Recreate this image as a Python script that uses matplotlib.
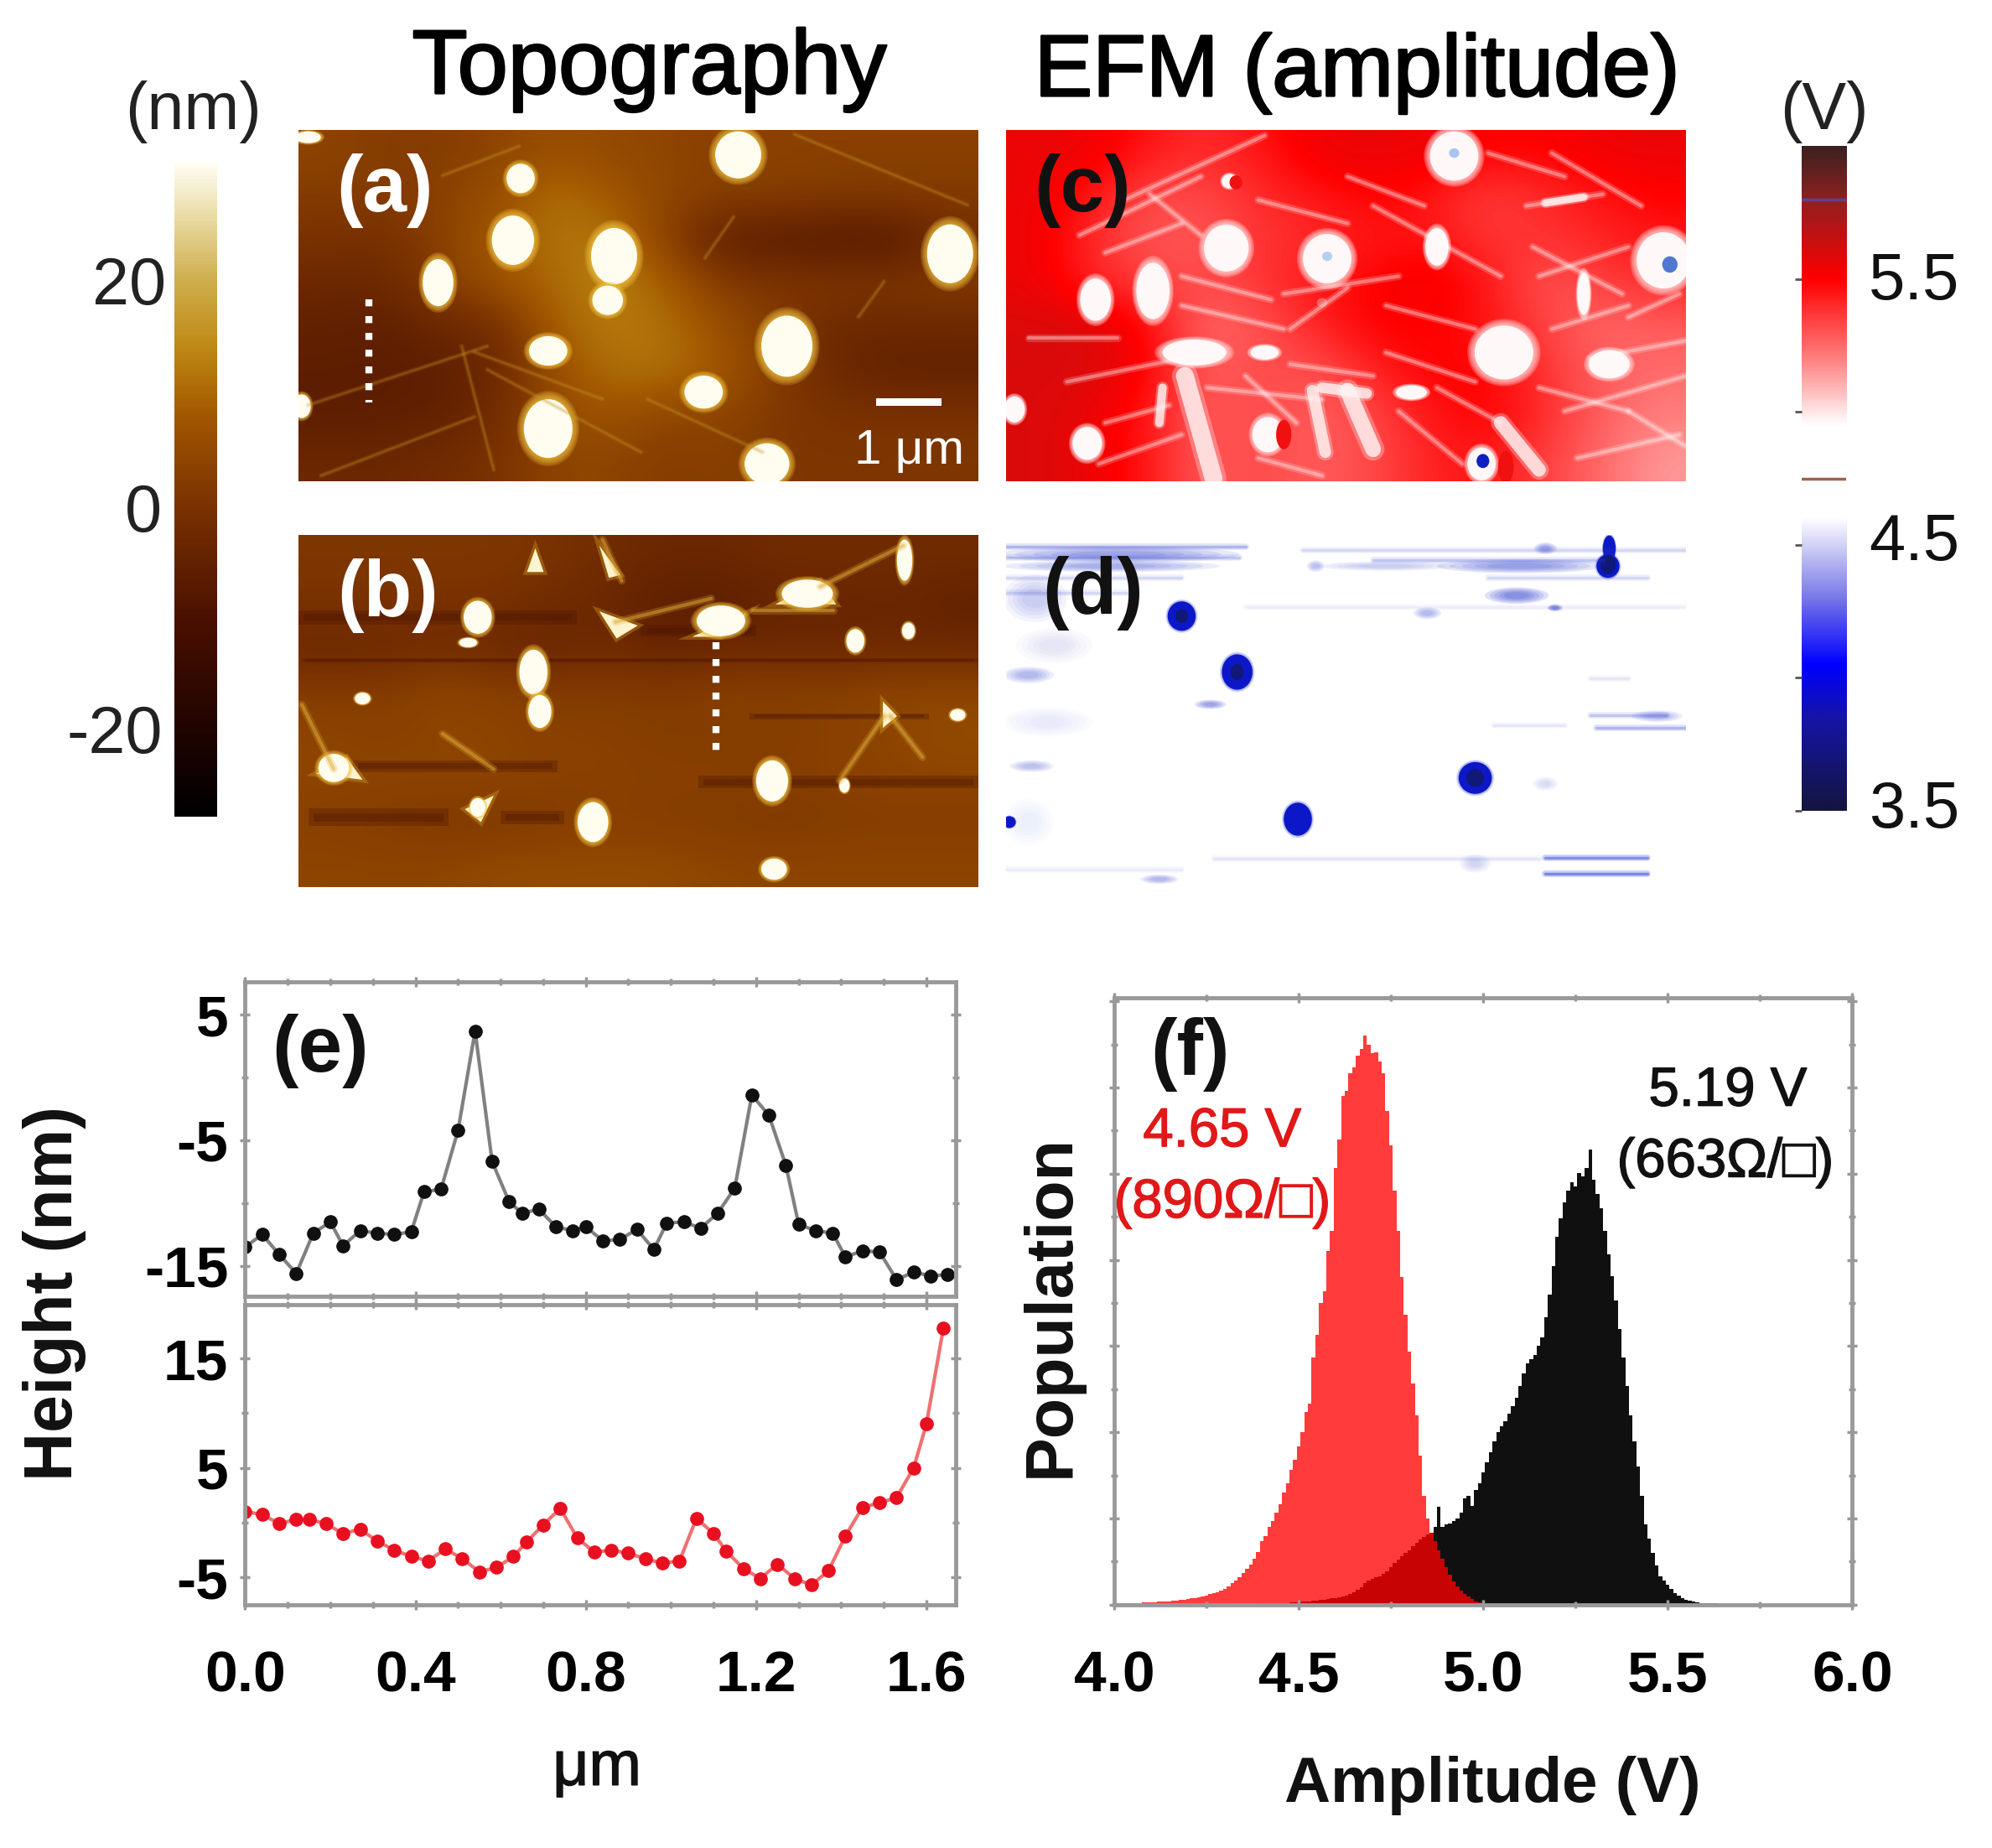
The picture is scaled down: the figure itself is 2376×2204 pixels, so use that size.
import numpy as np
import matplotlib
matplotlib.use('Agg')
import matplotlib.pyplot as plt
import matplotlib.patheffects as pe
from matplotlib.colors import LinearSegmentedColormap
from matplotlib.patches import Ellipse, Rectangle, Polygon
from matplotlib.ticker import MultipleLocator

plt.rcParams['font.family'] = ['Liberation Sans', 'DejaVu Sans']
plt.rcParams['axes.unicode_minus'] = False

W, H = 2376, 2204
S = W / 1568.0  # positions below were read on a scaled view of the picture

# height profiles, panel (e)
x_top = [0.00, 0.04, 0.08, 0.12, 0.16, 0.20, 0.23, 0.27, 0.31, 0.35, 0.39, 0.42, 0.46, 0.50, 0.54,
         0.58, 0.62, 0.65, 0.69, 0.73, 0.77, 0.80, 0.84, 0.88, 0.92, 0.96, 0.99, 1.03, 1.07, 1.11,
         1.15, 1.19, 1.23, 1.27, 1.30, 1.34, 1.38, 1.41, 1.45, 1.49, 1.53, 1.57, 1.61, 1.65]
h_top = [-13.5, -12.5, -14.1, -15.6, -12.4, -11.5, -13.4, -12.2, -12.4, -12.5, -12.3, -9.1, -8.9, -4.2, 3.7,
         -6.7, -9.9, -10.8, -10.5, -11.9, -12.2, -11.9, -13.0, -12.9, -12.1, -13.7, -11.6, -11.5, -12.0, -10.8,
         -8.8, -1.4, -3.0, -7.0, -11.7, -12.2, -12.4, -14.3, -13.8, -13.9, -16.1, -15.5, -15.8, -15.7]
x_bot = [0.00, 0.04, 0.08, 0.12, 0.15, 0.19, 0.23, 0.27, 0.31, 0.35, 0.39, 0.43, 0.47, 0.51, 0.55,
         0.59, 0.63, 0.66, 0.70, 0.74, 0.78, 0.82, 0.86, 0.90, 0.94, 0.98, 1.02, 1.06, 1.10, 1.13,
         1.17, 1.21, 1.25, 1.29, 1.33, 1.37, 1.41, 1.45, 1.49, 1.53, 1.57, 1.60, 1.64]
h_bot = [1.0, 0.75, -0.1, 0.3, 0.3, -0.1, -1.0, -0.6, -1.7, -2.5, -3.1, -3.5, -2.4, -3.3, -4.5,
         -4.1, -3.1, -1.8, -0.2, 1.3, -1.4, -2.7, -2.5, -2.8, -3.3, -3.7, -3.5, 0.4, -1.0, -2.6,
         -4.2, -5.1, -3.8, -5.1, -5.7, -4.4, -1.2, 1.4, 1.8, 2.3, 5.0, 9.0, 17.8]

# amplitude histograms, panel (f), 0.01 V bins
red_start = 4.00
red_counts = [2, 2, 2, 2, 3, 3, 3, 3, 4, 4, 4, 4, 5, 5, 6, 6, 7, 7, 8, 8,
              10, 11, 12, 13, 15, 16, 18, 20, 22, 25, 28, 32, 38, 42, 48, 55, 62, 70, 80, 92,
              110, 120, 135, 145, 160, 175, 195, 212, 235, 252, 275, 300, 335, 350, 430, 470, 525, 545, 615, 650,
              760, 810, 885, 895, 925, 935, 955, 968, 990, 975, 960, 962, 945, 925, 860, 800, 720, 650, 570, 505,
              440, 385, 330, 260, 190, 150, 125, 110, 95, 80, 65, 52, 40, 32, 25, 18, 14, 10, 6, 4, 2]
black_start = 4.40
black_counts = [2, 2, 2, 2, 3, 3, 3, 3, 4, 4, 5, 5, 6, 6, 7, 7, 8, 9, 10, 11,
                12, 13, 14, 16, 18, 22, 26, 31, 38, 42, 45, 48, 50, 54, 58, 65, 72, 78, 85, 90,
                95, 102, 108, 113, 118, 122, 125, 135, 170, 135, 140, 142, 145, 150, 160, 185, 190, 172, 200, 212,
                230, 248, 265, 285, 300, 310, 320, 332, 345, 360, 380, 402, 420, 428, 435, 450, 465, 500, 540, 590,
                640, 672, 700, 720, 735, 728, 752, 745, 760, 792, 740, 715, 690, 650, 610, 572, 530, 480, 430, 380,
                330, 285, 240, 190, 140, 115, 90, 68, 50, 42, 35, 27, 20, 16, 12, 9, 7, 5, 4, 3,
                3, 2, 2, 2, 1, 1, 1, 1, 1, 0, 0]

# images: coarse background maps and features as (x, y, rx, ry) on each panel's own grid
a_lim = (465, 1527, 222, 820)
a_bg = [[4, 2, 2, 4, 6, 5, 4, 3, 3, 3, 3, 3],
        [2, 2, 3, 6, 11, 8, 4, 3, 3, 2, 2, 2],
        [0, -1, 3, 8, 11, 12, 3, -6, -7, -8, -8, -2],
        [-3, -3, 2, 7, 10, 13, 9, 2, 1, 1, 1, 2],
        [-5, -6, -3, -2, 9, 12, 11, 6, 1, -3, -3, -3],
        [-6, -6, -6, -3, 6, 11, 11, 8, 2, -3, -5, -5],
        [-6, -6, -5, -2, 5, 7, 4, 4, 1, 0, 0, 0],
        [-3, -3, -2, 0, 4, 4, 2, 3, 1, 1, 1, 1]]
a_blobs = [(1152, 265, 36, 40), (812, 305, 22, 25), (800, 410, 33, 42), (958, 437, 36, 48), (683, 482, 24, 40),
           (1483, 433, 36, 50), (948, 512, 24, 25), (1228, 590, 40, 52), (855, 598, 30, 25), (1098, 668, 30, 28),
           (855, 730, 38, 50), (1197, 790, 35, 35), (470, 692, 14, 20), (480, 235, 20, 10)]
a_scratches = [(480, 690, 760, 590), (740, 600, 940, 680), (760, 630, 1000, 770), (1100, 440, 1145, 370),
               (690, 300, 810, 250), (1010, 680, 1190, 770), (500, 810, 740, 710), (1240, 230, 1510, 350),
               (720, 590, 770, 800), (1340, 540, 1380, 480)]
b_lim = (465, 1527, 912, 1510)
b_bg = [[1, 1, 1, 1, 0, -2, -3, -3, -2, -2, -2, -2],
        [0, 0, 0, 0, -2, -3, -6, -6, -4, -4, -3, -5],
        [-3, -3, -2, -3, -4, -2, -5, -3, -3, -3, -3, -3],
        [2, 2, 4, 3, 2, 2, 2, 3, 3, 3, 4, 4],
        [4, 3, 4, 4, 3, 3, 2, 2, 2, 3, 4, 5],
        [4, 4, 4, 4, 3, 3, 3, 3, 3, 3, 4, 4],
        [3, 2, 1, 1, 2, 3, 2, 2, 1, 2, 2, 2],
        [4, 4, 4, 5, 5, 5, 5, 4, 4, 4, 4, 4]]
b_blobs = [(745, 1052, 22, 28), (832, 1145, 22, 38), (842, 1212, 18, 28), (1125, 1058, 38, 26),
           (1260, 1012, 40, 24), (1412, 955, 12, 35), (1335, 1092, 14, 20), (1205, 1330, 25, 35),
           (925, 1400, 24, 34), (1208, 1480, 20, 18), (520, 1308, 24, 24), (1495, 1218, 12, 10),
           (1418, 1075, 10, 14), (565, 1190, 12, 10), (730, 1095, 14, 8), (1318, 1338, 8, 12), (745, 1375, 12, 16)]
b_stars = [[(835, 935), (822, 975), (848, 975)], [(935, 930), (950, 985), (968, 980)],
           [(935, 1042), (995, 1066), (962, 1088)], [(1080, 1085), (1165, 1045), (1125, 1085)],
           [(1210, 1030), (1305, 1030), (1280, 990)], [(1378, 1195), (1400, 1220), (1378, 1240)],
           [(492, 1318), (540, 1290), (565, 1328)], [(725, 1378), (770, 1355), (750, 1400)]]
b_stripes = [(465, 900, 1052, 24), (1000, 1180, 1075, 20), (550, 870, 1305, 20), (1090, 1527, 1332, 22),
             (480, 700, 1392, 30), (780, 880, 1392, 22), (1170, 1450, 1220, 10), (470, 1527, 1125, 8)]
b_scratches = [(1175, 1040, 1300, 1040), (960, 1060, 1110, 1020), (940, 920, 970, 990), (1280, 1000, 1410, 930),
               (1380, 1220, 1310, 1330), (1390, 1220, 1440, 1290), (690, 1250, 770, 1310), (470, 1200, 520, 1310)]

c_lim = (25, 1090, 220, 820)
c_bg = [[5.55, 5.55, 5.45, 5.4, 5.45, 5.55, 5.55, 5.55, 5.5, 5.5, 5.55, 5.55],
        [5.55, 5.45, 5.33, 5.33, 5.4, 5.45, 5.5, 5.45, 5.35, 5.4, 5.45, 5.5],
        [5.55, 5.4, 5.3, 5.3, 5.38, 5.4, 5.45, 5.45, 5.38, 5.38, 5.42, 5.45],
        [5.55, 5.42, 5.35, 5.32, 5.38, 5.45, 5.5, 5.55, 5.45, 5.3, 5.35, 5.4],
        [5.6, 5.6, 5.5, 5.25, 5.3, 5.42, 5.5, 5.5, 5.45, 5.35, 5.25, 5.28],
        [5.6, 5.6, 5.5, 5.28, 5.33, 5.3, 5.42, 5.5, 5.5, 5.38, 5.28, 5.25],
        [5.6, 5.55, 5.45, 5.28, 5.33, 5.28, 5.33, 5.45, 5.5, 5.4, 5.28, 5.2],
        [5.6, 5.55, 5.45, 5.28, 5.33, 5.28, 5.33, 5.42, 5.45, 5.35, 5.25, 5.15]]
c_blobs = [(727, 265, 38, 42), (370, 422, 35, 40), (528, 440, 38, 42), (700, 420, 18, 32), (1055, 443, 42, 48),
           (255, 495, 26, 48), (165, 510, 24, 36), (805, 600, 46, 46), (38, 697, 16, 22), (152, 755, 23, 28),
           (375, 308, 12, 12), (430, 600, 22, 12), (320, 600, 50, 22), (660, 668, 24, 12),
           (435, 740, 24, 30), (770, 790, 22, 28), (970, 620, 32, 24), (930, 500, 10, 36)]
c_spots = [(727, 260, 8, 8, '#a8c4f0'), (528, 436, 8, 8, '#b8d0f0'), (1065, 450, 12, 14, '#5078d0'),
           (772, 785, 10, 12, '#1020c0'), (460, 740, 12, 25, '#f01010'), (808, 795, 12, 28, '#f01010'),
           (385, 310, 10, 12, '#f01010'), (520, 515, 8, 8, '#f06060')]
c_bands = [(305, 640, 350, 815, 34), (505, 665, 525, 770, 22), (560, 665, 600, 765, 30), (520, 660, 590, 670, 20),
           (800, 720, 860, 800, 26), (270, 660, 265, 720, 16), (870, 345, 930, 335, 14)]
c_streaks = [(210, 340, 430, 230), (140, 400, 330, 300), (60, 575, 200, 575), (120, 650, 300, 610), (840, 350, 960, 330),
             (470, 560, 560, 490), (900, 700, 1090, 640), (920, 780, 1080, 740), (170, 790, 300, 740), (600, 350, 800, 470),
             (340, 660, 520, 680), (700, 660, 800, 720), (860, 470, 1000, 420), (620, 520, 760, 560), (940, 610, 1090, 580),
             (250, 330, 330, 400), (180, 430, 300, 380), (420, 340, 560, 380), (460, 500, 640, 470), (560, 300, 680, 350),
             (780, 260, 900, 300), (880, 260, 1020, 350), (850, 420, 990, 500), (620, 600, 760, 650), (880, 560, 1000, 520),
             (400, 640, 480, 720), (640, 700, 740, 790), (860, 660, 1000, 700), (1000, 700, 1090, 760), (420, 780, 520, 810),
             (180, 720, 280, 690), (470, 620, 600, 640), (300, 520, 460, 560), (300, 470, 440, 510), (1000, 540, 1080, 500)]

d_lim = (25, 1090, 912, 1510)
d_blobs = [(300, 1050, 22, 25), (387, 1145, 24, 30), (482, 1395, 22, 28), (760, 1325, 26, 27), (970, 935, 10, 22),
           (968, 965, 18, 20), (30, 1400, 10, 10)]
d_core = [(760, 1325, 14, 15), (968, 962, 12, 16), (300, 1050, 10, 12), (387, 1145, 10, 14)]
d_smudges = [(200, 945, 190, 14, 0.4), (190, 965, 170, 10, 0.35), (70, 1020, 50, 40, 0.2), (60, 1150, 40, 14, 0.3),
             (830, 965, 130, 12, 0.45), (620, 965, 110, 8, 0.2), (825, 1015, 50, 14, 0.55), (885, 1036, 12, 6, 0.6),
             (685, 1045, 22, 10, 0.3), (345, 1200, 25, 8, 0.4), (65, 1305, 35, 10, 0.25), (1045, 1220, 40, 10, 0.3),
             (870, 935, 18, 10, 0.4), (510, 965, 14, 10, 0.25), (870, 1335, 20, 12, 0.12), (90, 1230, 70, 25, 0.07),
             (265, 1497, 30, 8, 0.3), (760, 1470, 25, 16, 0.15), (60, 1400, 40, 40, 0.06), (100, 1100, 60, 30, 0.08)]
d_lines = [(25, 932, 400, 932, 0.4), (25, 950, 390, 950, 0.3), (25, 985, 300, 985, 0.2), (25, 1010, 220, 1010, 0.2),
           (490, 938, 1090, 938, 0.2), (600, 955, 960, 955, 0.3), (780, 985, 1030, 985, 0.2), (400, 1035, 1090, 1035, 0.08),
           (870, 1460, 1030, 1460, 0.65), (870, 1487, 1030, 1487, 0.7), (350, 1462, 860, 1462, 0.12), (25, 1480, 300, 1480, 0.1),
           (940, 1218, 1060, 1218, 0.3), (950, 1240, 1090, 1240, 0.4), (790, 1235, 900, 1235, 0.12), (940, 1155, 1000, 1155, 0.12)]

# colour maps
topo_vals = [-27, -20, -10, 0, 8, 14, 20, 26, 30]
topo_cols = ['#000000', '#1e0400', '#4a1000', '#7a3200', '#a25800', '#bf8a14', '#cfb050', '#eee0b0', '#fffff5']
efm_vals = [3.5, 3.85, 4.05, 4.3, 4.6, 4.95, 5.2, 5.5, 5.8, 6.0]
efm_cols = ['#141440', '#1414a8', '#0000ff', '#7878e8', '#ffffff', '#ffffff', '#ff8080', '#ff0000', '#902020', '#3c2020']


def make_cmap(name, vals, cols):
    pos = (np.array(vals) - vals[0]) / (vals[-1] - vals[0])
    return LinearSegmentedColormap.from_list(name, list(zip(pos, cols)), N=512)


topo = make_cmap('topo', topo_vals, topo_cols)
efm = make_cmap('efm', efm_vals, efm_cols)

fig = plt.figure(figsize=(W / 100, H / 100), dpi=100, facecolor='white')


def axpx(x0, y0, x1, y1):
    # box given in the scaled view, y downwards
    return fig.add_axes([x0 * S / W, 1 - y1 * S / H, (x1 - x0) * S / W, (y1 - y0) * S / H])


def label(x, y, s, size, **kw):
    kw.setdefault('ha', 'center')
    kw.setdefault('va', 'center')
    return fig.text(x * S / W, 1 - y * S / H, s, fontsize=size, **kw)


def image_panel(box, lim, bg, cmap, vmin, vmax):
    ax = axpx(*box)
    if bg is not None:
        ax.imshow(bg, cmap=cmap, vmin=vmin, vmax=vmax, aspect='auto', interpolation='bicubic',
                  extent=(lim[0], lim[1], lim[3], lim[2]))
    ax.set_xlim(lim[0], lim[1])
    ax.set_ylim(lim[3], lim[2])
    ax.axis('off')
    return ax


def blobs(ax, items, core, halo=None, halo_alpha=0.12, reach=0.5):
    for x, y, rx, ry in items:
        if halo:
            # soft edge from stacked faint rings
            for k in (1.0, 0.8, 0.6, 0.4, 0.2):
                ax.add_patch(Ellipse((x, y), 2 * rx * (1 + reach * k), 2 * ry * (1 + reach * k),
                                     color=halo, alpha=halo_alpha, lw=0))
        ax.add_patch(Ellipse((x, y), 2 * rx, 2 * ry, color=core, lw=0))


def soft_line(ax, x0, y0, x1, y1, col, lw, alpha):
    ax.plot([x0, x1], [y0, y1], color=col, lw=lw * 2.2, alpha=alpha * 0.35, solid_capstyle='round')
    ax.plot([x0, x1], [y0, y1], color=col, lw=lw, alpha=alpha * 0.7, solid_capstyle='round')


# topography
ax_a = image_panel((235, 102, 770, 379), a_lim, a_bg, topo, -27, 30)
for x0, y0, x1, y1 in a_scratches:
    soft_line(ax_a, x0, y0, x1, y1, '#c89428', 2, 0.4)
blobs(ax_a, a_blobs, '#fffdf0', '#f0c040', 0.22, 0.28)
ax_a.plot([575, 575], [510, 685], color='white', lw=6, ls=(0, (1, 1.4)))
ax_a.add_patch(Rectangle((1368, 678), 102, 14, color='white', lw=0))

ax_b = image_panel((235, 421, 770, 698), b_lim, b_bg, topo, -27, 30)
for x0, x1, y, t in b_stripes:
    ax_b.add_patch(Rectangle((x0, y - t / 2), x1 - x0, t, color='#4a1400', alpha=0.3, lw=0))
    ax_b.add_patch(Rectangle((x0 + 8, y - t / 4), x1 - x0 - 16, t / 2, color='#4a1400', alpha=0.3, lw=0))
for x0, y0, x1, y1 in b_scratches:
    soft_line(ax_b, x0, y0, x1, y1, '#e0ac38', 3, 0.7)
for pts in b_stars:
    ax_b.add_patch(Polygon(pts, closed=True, fc='#f0c040', ec='#e0a820', alpha=0.35, lw=5))
    ax_b.add_patch(Polygon(pts, closed=True, color='#fff4d0', lw=0))
blobs(ax_b, b_blobs, '#fffdf0', '#f0c040', 0.22, 0.25)
ax_b.plot([1117, 1117], [1095, 1280], color='white', lw=6, ls=(0, (1, 1.4)))

# EFM amplitude
ax_c = image_panel((792, 102, 1327, 379), c_lim, c_bg, efm, 3.5, 6.0)
for x0, y0, x1, y1 in c_streaks:
    soft_line(ax_c, x0, y0, x1, y1, 'white', 3, 0.5)
for x0, y0, x1, y1, w in c_bands:
    ax_c.plot([x0, x1], [y0, y1], color='#fff4f4', lw=w * 0.65, alpha=0.3, solid_capstyle='round')
    ax_c.plot([x0, x1], [y0, y1], color='#fff4f4', lw=w * 0.45, alpha=0.8, solid_capstyle='round')
blobs(ax_c, c_blobs, '#fff8f8', '#ffd8d8', 0.25, 0.25)
for x, y, rx, ry, col in c_spots:
    ax_c.add_patch(Ellipse((x, y), 2 * rx, 2 * ry, color=col, lw=0))

ax_d = image_panel((792, 421, 1327, 698), d_lim, None, efm, 3.5, 6.0)
for x, y, rx, ry, a in d_smudges:
    for k in (1.0, 0.85, 0.7, 0.55, 0.4):
        ax_d.add_patch(Ellipse((x, y), 2 * rx * k, 2 * ry * k, color='#3040d0', alpha=a * 0.28, lw=0))
for x0, y0, x1, y1, a in d_lines:
    soft_line(ax_d, x0, y0, x1, y1, '#3040d0', 2.5, a)
blobs(ax_d, d_blobs, '#0c18c8', '#3040d0', 0.1, 0.15)
blobs(ax_d, d_core, '#101878')

# colour bars
cb_left = axpx(137, 128, 170, 643)
cb_left.imshow(np.linspace(30, -27, 400).reshape(-1, 1), cmap=topo, vmin=-27, vmax=30, aspect='auto')
cb_left.axis('off')

cb_right = axpx(1418, 115, 1453, 638)
cb_right.imshow(np.linspace(6.0, 3.5, 500).reshape(-1, 1), cmap=efm, vmin=3.5, vmax=6.0, aspect='auto',
                extent=(0, 1, 3.5, 6.0))
cb_right.axhline(4.75, color='#a06050', lw=2.5)
cb_right.axhline(5.8, color='#604090', lw=2.5)
cb_right.set_xlim(0, 1)
cb_right.set_ylim(3.5, 6.0)
cb_right.set_xticks([])
cb_right.set_yticks([3.5, 4.0, 4.5, 5.0, 5.5])
cb_right.set_yticklabels([])
cb_right.tick_params(axis='y', length=6, width=2, color='#555555')
for sp in cb_right.spines.values():
    sp.set_visible(False)

# profiles
GREY = '#999999'


def frame(ax):
    for sp in ax.spines.values():
        sp.set_color(GREY)
        sp.set_linewidth(3.5)
    ax.tick_params(axis='both', which='both', direction='inout', top=True, right=True, color=GREY, width=2.5,
                   labelsize=50)
    ax.tick_params(axis='both', which='major', length=9)
    ax.tick_params(axis='both', which='minor', length=6)
    for t in ax.get_xticklabels() + ax.get_yticklabels():
        t.set_fontweight('bold')


ax_e1 = axpx(193, 773, 752, 1020)
ax_e2 = axpx(193, 1027, 752, 1263)
ax_e1.plot(x_top, h_top, '-o', color='#808080', lw=3, mfc='#101010', mec='#101010', ms=11)
ax_e2.plot(x_bot, h_bot, '-o', color='#f07070', lw=3, mfc='#e81020', mec='#e81020', ms=11)
ax_e1.set_ylim(-17.4, 7.6)
ax_e2.set_ylim(-7.5, 19.9)
for ax in (ax_e1, ax_e2):
    ax.set_xlim(0, 1.668)
    ax.xaxis.set_major_locator(MultipleLocator(0.4))
    ax.xaxis.set_minor_locator(MultipleLocator(0.1))
ax_e1.set_yticks([-15, -5, 5])
ax_e1.set_yticks([-10, 0], minor=True)
ax_e2.set_yticks([-5, 5, 15])
ax_e2.set_yticks([0, 10], minor=True)
ax_e1.set_xticklabels([])
frame(ax_e1)
frame(ax_e2)
ax_e1.tick_params(axis='y', pad=10)
ax_e2.tick_params(axis='y', pad=10)
ax_e2.tick_params(axis='x', pad=34)
ax_e2.xaxis.set_major_formatter('{x:.1f}')

# histograms
ax_f = axpx(877, 785, 1458, 1263)
black_edges = black_start + 0.01 * np.arange(len(black_counts) + 1) - 0.005
red_edges = red_start + 0.01 * np.arange(len(red_counts) + 1) - 0.005
ax_f.stairs(black_counts, black_edges, fill=True, color='#101010', lw=0)
ax_f.stairs(red_counts, red_edges, fill=True, color='#ff0000', alpha=0.77, lw=0)
ax_f.set_xlim(4, 6)
ax_f.set_ylim(0, 1057)
ax_f.xaxis.set_major_locator(MultipleLocator(0.5))
ax_f.xaxis.set_minor_locator(MultipleLocator(0.25))
ax_f.yaxis.set_major_locator(MultipleLocator(150))
ax_f.yaxis.set_minor_locator(MultipleLocator(75))
ax_f.set_yticklabels([])
frame(ax_f)
ax_f.tick_params(axis='x', pad=34)
ax_f.xaxis.set_major_formatter('{x:.1f}')

# text
heavy = [pe.withStroke(linewidth=1.8, foreground='black')]
semi = [pe.withStroke(linewidth=1, foreground='#111111')]
semi_red = [pe.withStroke(linewidth=1, foreground='#e01818')]
label(511, 55, 'Topography', 78, path_effects=heavy)
label(1068, 58, 'EFM (amplitude)', 75, path_effects=heavy)
label(152, 88, '(nm)', 57, color='#222222')
label(1436, 88, '(V)', 57, color='#222222')
label(102, 226, '20', 57, color='#222222')
label(113, 405, '0', 57, color='#222222')
label(90, 579, '-20', 57, color='#222222')
label(1507, 222, '5.5', 56, color='#111111')
label(1507, 427, '4.5', 56, color='#111111')
label(1507, 638, '3.5', 56, color='#111111')
label(303, 150, '(a)', 68, color='white', weight='bold')
label(305, 469, '(b)', 68, color='white', weight='bold')
label(852, 150, '(c)', 68, color='#111111', weight='bold')
label(860, 467, '(d)', 68, color='#111111', weight='bold')
label(716, 355, '1 μm', 42, color='white')
label(252, 827, '(e)', 68, color='#111111', weight='bold')
label(937, 830, '(f)', 68, color='#111111', weight='bold')
label(962, 891, '4.65 V', 47, color='#e01818', path_effects=semi_red)
label(962, 947, '(890Ω/□)', 47, color='#e01818', path_effects=semi_red)
label(1360, 859, '5.19 V', 47, color='#111111', path_effects=semi)
label(1358, 915, '(663Ω/□)', 47, color='#111111', path_effects=semi)
label(43, 1018, 'Height (nm)', 58, rotation=90, weight='bold', color='#111111')
label(470, 1392, 'μm', 54, color='#111111', path_effects=semi)
label(828, 1028, 'Population', 57, rotation=90, weight='bold', color='#111111')
label(1175, 1405, 'Amplitude (V)', 55, weight='bold', color='#111111')

fig.savefig('out.png', dpi=100)
